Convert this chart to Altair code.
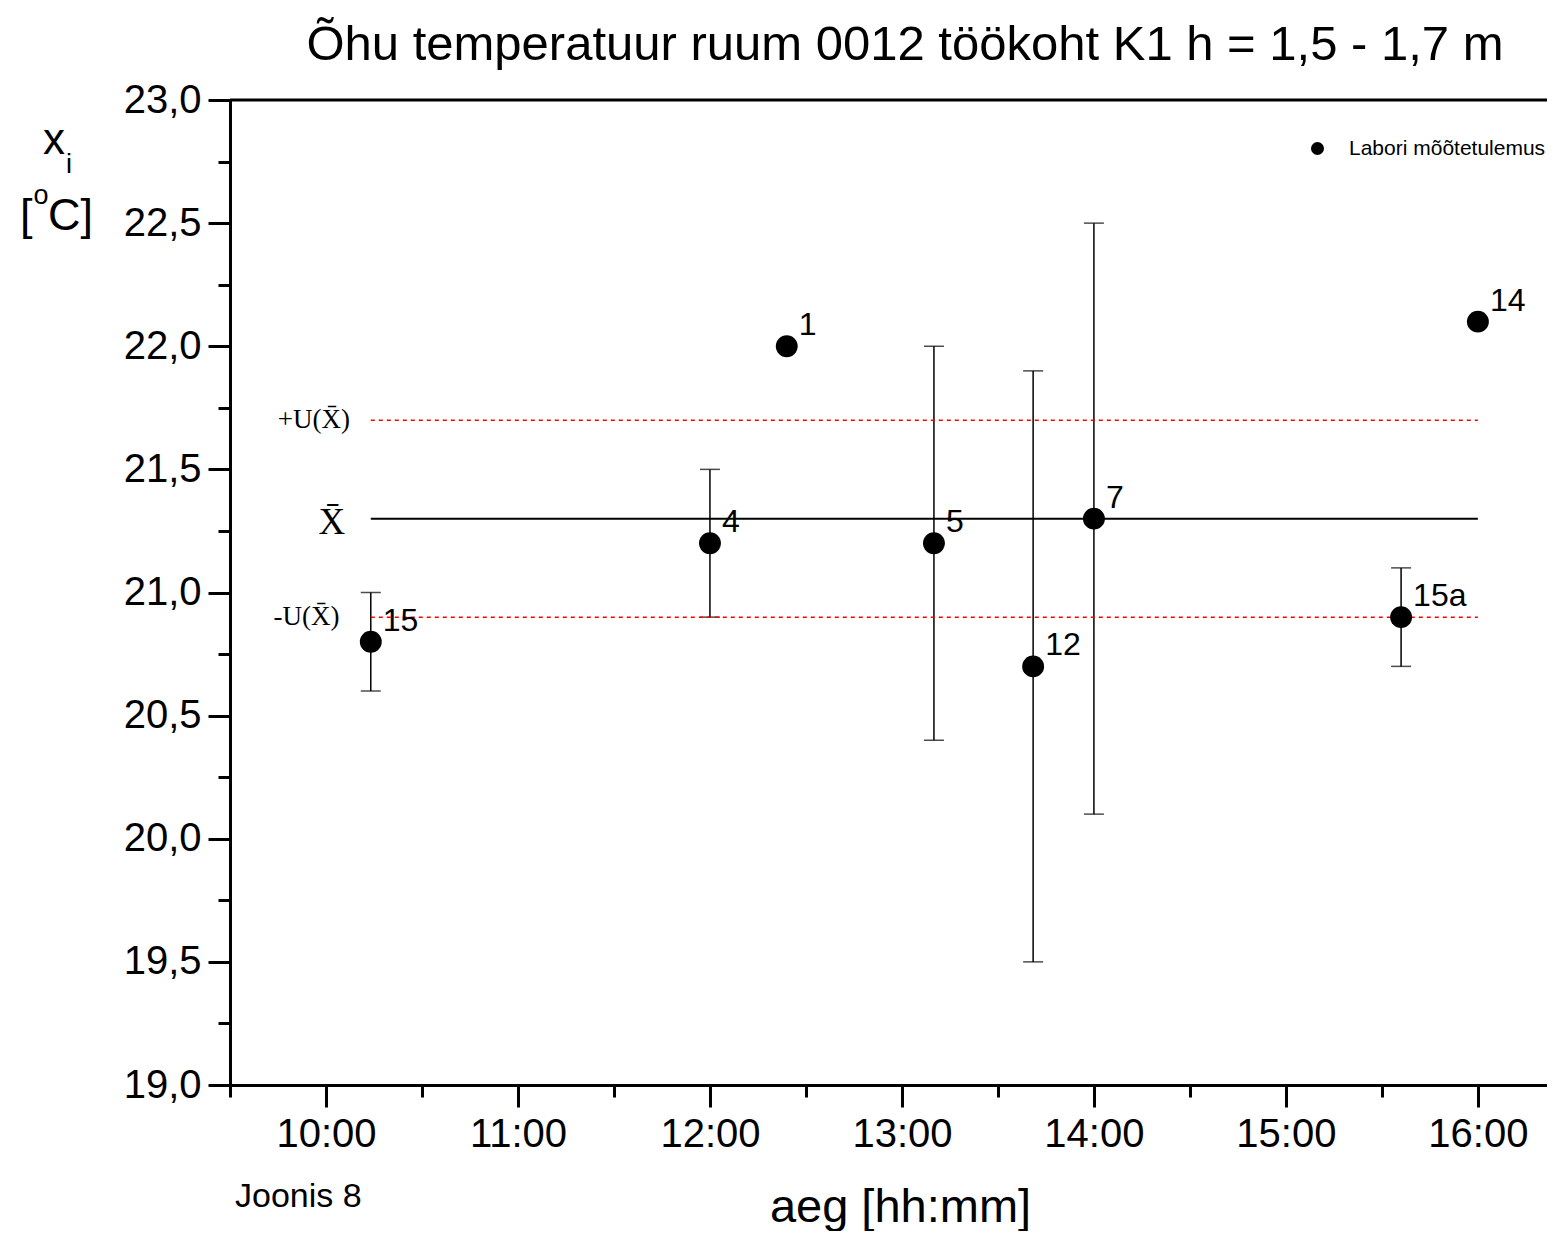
import altair as alt
import pandas as pd

# ---------------- data ----------------
point_labels = ["15", "4", "1", "5", "12", "7", "15a", "14"]
point_times = ["10:14", "12:00", "12:24", "13:10", "13:41", "14:00", "15:36", "16:00"]
point_values = [20.8, 21.2, 22.0, 21.2, 20.7, 21.3, 20.9, 22.1]
err_low = [20.6, 20.9, None, 20.4, 19.5, 20.1, 20.7, None]
err_high = [21.0, 21.5, None, 22.0, 21.9, 22.5, 21.1, None]
series_name = "Labori mõõtetulemus"

ref_names = ["+U(X̄)", "X̄", "-U(X̄)"]
ref_values = [21.7, 21.3, 20.9]
ref_kind = ["u", "mean", "u"]
ref_start = "10:14"
ref_end = "16:00"
ref_label_hour = [10.125, 10.1, 10.07]

x_tick_values = [9.5, 10.0, 10.5, 11.0, 11.5, 12.0, 12.5, 13.0, 13.5,
                 14.0, 14.5, 15.0, 15.5, 16.0]
y_tick_values = [19.0, 19.25, 19.5, 19.75, 20.0, 20.25, 20.5, 20.75, 21.0,
                 21.25, 21.5, 21.75, 22.0, 22.25, 22.5, 22.75, 23.0]
x_domain = [9.5, 16.36]
y_domain = [19.0, 23.0]

title_text = "Õhu temperatuur ruum 0012 töökoht K1 h = 1,5 - 1,7 m"
x_title = "aeg [hh:mm]"
figure_note = "Joonis 8"


def to_hour(s):
    h, m = s.split(":")
    return int(h) + int(m) / 60.0


pts = pd.DataFrame({
    "label": point_labels,
    "hour": [to_hour(t) for t in point_times],
    "value": point_values,
    "lo": err_low,
    "hi": err_high,
    "series": [series_name] * len(point_labels),
})
errs = pts.dropna(subset=["lo", "hi"])

refs = pd.DataFrame({
    "name": ref_names,
    "value": ref_values,
    "kind": ref_kind,
    "start": [to_hour(ref_start)] * 3,
    "end": [to_hour(ref_end)] * 3,
    "lx": ref_label_hour,
})

SANS = "Liberation Sans"
SERIF = "Liberation Serif"

x_scale = alt.Scale(domain=x_domain, nice=False, zero=False)
y_scale = alt.Scale(domain=y_domain, nice=False, zero=False)

x_axis = alt.Axis(
    values=x_tick_values,
    labelExpr="abs(datum.value - round(datum.value)) < 0.001 && datum.value > 9.9 ? format(round(datum.value), 'd') + ':00' : ''",
    tickSize={"condition": {"test": "abs(datum.value - round(datum.value)) < 0.001", "value": 22}, "value": 12},
    tickWidth=3, domainWidth=3, tickColor="black", domainColor="black",
    labelFont=SANS, labelFontSize=40, labelColor="black", labelPadding=7,
    grid=False, title=x_title, titleFont=SANS, titleFontSize=47,
    titleFontWeight="normal", titleX=670, titleY=136, titleBaseline="alphabetic",
    titleAnchor="start", titleAlign="center", labelFlush=False, labelBound=False,
)
y_axis = alt.Axis(
    values=y_tick_values,
    labelExpr="abs(datum.value*2 - round(datum.value*2)) < 0.001 ? replace(format(datum.value, '.1f'), '.', ',') : ''",
    tickSize={"condition": {"test": "abs(datum.value*2 - round(datum.value*2)) < 0.001", "value": 22}, "value": 12},
    tickWidth=3, domainWidth=3, tickColor="black", domainColor="black",
    labelFont=SANS, labelFontSize=40, labelColor="black", labelPadding=7,
    grid=False, title=None, labelFlush=False, labelBound=False,
)

base = alt.Chart(pts)

# error bars
err_rule = alt.Chart(errs).mark_rule(color="black", strokeWidth=1.5).encode(
    x=alt.X("hour:Q", scale=x_scale, axis=x_axis),
    y=alt.Y("lo:Q", scale=y_scale, axis=y_axis),
    y2="hi:Q",
)
cap_lo = alt.Chart(errs).mark_tick(color="black", orient="horizontal", size=20, thickness=1.5).encode(
    x="hour:Q", y="lo:Q")
cap_hi = alt.Chart(errs).mark_tick(color="black", orient="horizontal", size=20, thickness=1.5).encode(
    x="hour:Q", y="hi:Q")

# reference lines
mean_line = alt.Chart(refs).transform_filter("datum.kind == 'mean'").mark_rule(
    color="black", strokeWidth=2).encode(x="start:Q", x2="end:Q", y="value:Q")
u_lines = alt.Chart(refs).transform_filter("datum.kind == 'u'").mark_rule(
    color="#ff0000", strokeWidth=1.5, strokeDash=[4, 4]).encode(x="start:Q", x2="end:Q", y="value:Q")
u_text = alt.Chart(refs).transform_filter("datum.kind == 'u'").mark_text(
    font=SERIF, fontSize=27, align="right", baseline="middle", color="black").encode(
    x="lx:Q", y="value:Q", text="name:N")
mean_text = alt.Chart(refs).transform_filter("datum.kind == 'mean'").mark_text(
    font=SERIF, fontSize=37, align="right", baseline="middle", dy=4, color="black").encode(
    x="lx:Q", y="value:Q", text="name:N")

# top border
top_border = alt.Chart(pd.DataFrame({"v": [y_domain[1]]})).mark_rule(
    color="black", strokeWidth=3).encode(y="v:Q", x=alt.value(0), x2=alt.value(1317))

# points
points = base.mark_point(filled=True, size=480, opacity=1, shape="circle").encode(
    x="hour:Q", y="value:Q",
    color=alt.Color("series:N", scale=alt.Scale(range=["black"]),
                    legend=alt.Legend(title=None, orient="none", legendX=1077, legendY=38,
                                      symbolType="circle", symbolSize=170, symbolStrokeWidth=0,
                                      labelFont=SANS, labelFontSize=21, labelColor="black",
                                      labelOffset=21, labelLimit=0, padding=0)),
)
point_text = base.mark_text(font=SANS, fontSize=32, align="left", baseline="alphabetic",
                            dx=12, dy=-11, color="black").encode(
    x="hour:Q", y="value:Q", text="label:N")

# free texts
def free_text(txt, x, y, size, align="center", font=SANS):
    return alt.Chart(pd.DataFrame({"t": [txt]})).mark_text(
        font=font, fontSize=size, align=align, baseline="alphabetic", color="black"
    ).encode(text="t:N", x=alt.value(x), y=alt.value(y))

title_mark = free_text(title_text, 675, -40, 49)
note_mark = free_text(figure_note, 5, 1107, 34, align="left")
ytitle_x = free_text("x", -176, 54, 44)
ytitle_i = free_text("i", -161, 73, 27)
ytitle_lb = free_text("[", -210, 130, 45, align="left")
ytitle_o = free_text("o", -189, 104, 27)
ytitle_c = free_text("C]", -182, 130, 45, align="left")

chart = alt.layer(
    err_rule, cap_lo, cap_hi, mean_line, u_lines, u_text, mean_text, top_border,
    points, point_text, title_mark, note_mark,
    ytitle_x, ytitle_i, ytitle_lb, ytitle_o, ytitle_c,
).properties(
    width=1317, height=985,
    autosize=alt.AutoSizeParams(type="none"),
    padding={"left": 222, "top": 92, "right": 0, "bottom": 146},
    background="white",
).configure_view(stroke=None)

chart.save("out.html", embed_options={"renderer": "svg", "actions": False})
